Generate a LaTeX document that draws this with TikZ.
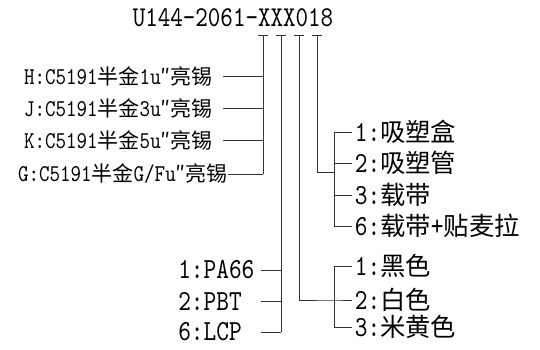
\documentclass[tikz,border=0pt]{standalone}
\usepackage{fontspec}
\setmainfont{lmmono10-regular.otf}[FakeStretch=0.83,Scale=1.15]
\newfontfamily\cjk{Noto Sans CJK SC}
\usetikzlibrary{positioning}
\tikzset{
partno/.style={font=\fontsize{18.75}{20}\selectfont, inner sep=0pt},
platelbl/.style={font=\fontsize{15.75}{18}\selectfont, anchor=east, inner ysep=0pt, inner xsep=7.5pt},
matlbl/.style={font=\fontsize{19}{22}\selectfont, anchor=west, inner ysep=0pt, inner xsep=1.5pt, text width=60pt, align=left},
optlbl/.style={font=\fontsize{19}{22}\selectfont, anchor=west, inner ysep=0pt, inner xsep=2pt},
wire/.style={draw=black!80, line width=0.75pt},
}
\begin{document}
\begin{tikzpicture}[x=0.75pt,y=-0.75pt]
\useasboundingbox (0,0) rectangle (540,350);
\node[partno] (pn) at (233,18) {U144-2061-XXX018};
% T heads under the code
\foreach \n/\x in {a/263,b/281,c/299,d/317}{
  \coordinate (\n) at (\x,35);
  \draw[wire] ([xshift=-3.75pt]\n) -- ([xshift=3.75pt]\n);
}
% plating
\node[platelbl] (h) at (223,76) {H:C5191{\cjk 半金}1u{\cjk ″亮锡}};
\node[platelbl] (j) at (223,108) {J:C5191{\cjk 半金}3u{\cjk ″亮锡}};
\node[platelbl] (k) at (223,140) {K:C5191{\cjk 半金}5u{\cjk ″亮锡}};
\node[platelbl, inner xsep=0pt] (g) at (228,174) {G:C5191{\cjk 半金}G/Fu{\cjk ″亮锡}};
\draw[wire] (a) -- (a |- g.east);
\foreach \l in {h,j,k,g} \draw[wire] (\l.east) -- (a |- \l.east);
% material
\node[matlbl] (pa) at (176,270) {1:PA66};
\node[matlbl] (pbt) at (176,301) {2:PBT};
\node[matlbl] (lcp) at (176,332) {6:LCP};
\draw[wire] (b) -- (b |- lcp.east);
\foreach \l in {pa,pbt,lcp} \draw[wire] (\l.east) -- (b |- \l.east);
% colour
\node[optlbl] (c1) at (352,266) {1:{\cjk 黑色}};
\node[optlbl] (c2) at (352,300) {2:{\cjk 白色}};
\node[optlbl] (c3) at (352,327) {3:{\cjk 米黄色}};
\coordinate (cb) at (334,300);
\draw[wire] (c) |- (cb) -- (c2.west);
\draw[wire] (c1.west) -| (cb |- c3.west) -- (c3.west);
% packing
\node[optlbl] (p1) at (352,132) {1:{\cjk 吸塑盒}};
\node[optlbl] (p2) at (352,163) {2:{\cjk 吸塑管}};
\node[optlbl] (p3) at (352,195) {3:{\cjk 载带}};
\node[optlbl] (p6) at (352,226) {6:{\cjk 载带}+{\cjk 贴麦拉}};
\coordinate (pb) at (334,172);
\draw[wire] (d) |- (pb);
\draw[wire] (p1.west) -| (pb |- p6.west) -- (p6.west);
\foreach \l in {p2,p3} \draw[wire] (pb |- \l.west) -- (\l.west);
\end{tikzpicture}
\end{document}
